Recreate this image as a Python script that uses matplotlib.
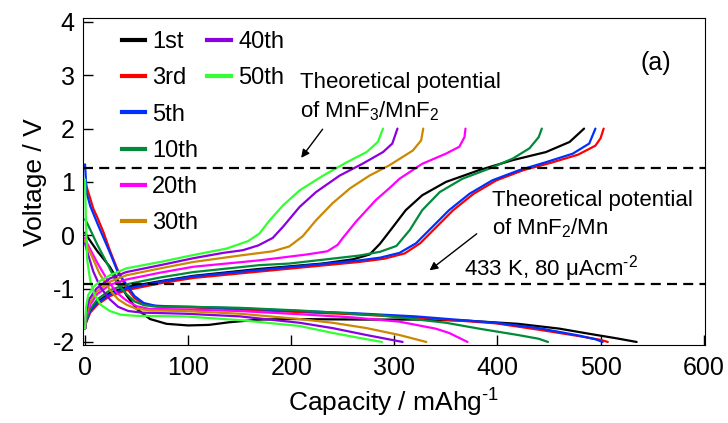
import matplotlib
matplotlib.use('Agg')
import matplotlib.pyplot as plt
from matplotlib.lines import Line2D

plt.rcParams['font.family'] = ['Liberation Sans', 'DejaVu Sans']
plt.rcParams['mathtext.fontset'] = 'custom'
plt.rcParams['mathtext.rm'] = 'Liberation Sans'
plt.rcParams['mathtext.default'] = 'regular'
plt.rcParams['axes.unicode_minus'] = False

# cycle labels and colours
cycles = ['1st', '3rd', '5th', '10th', '20th', '30th', '40th', '50th']
colors = ['#000000', '#ff0000', '#0030ff', '#008a3a', '#ff00ff', '#cc8800', '#8a00e0', '#33ff33']

# discharge curves (capacity mAh/g, voltage V)
d1_cap = [0, 2, 12, 24, 32, 40, 50, 63, 79, 100, 120, 140, 170, 200, 266, 320, 370, 420, 460, 490, 515, 535]
d1_v = [0.05, -0.02, -0.30, -0.59, -0.85, -1.12, -1.38, -1.57, -1.66, -1.69, -1.68, -1.63, -1.58, -1.57, -1.58, -1.58, -1.60, -1.66, -1.75, -1.85, -1.93, -2.0]
d3_cap = [0, 2, 8, 12, 18, 24, 31, 40, 48, 56, 65, 80, 100, 150, 208, 260, 320, 398, 440, 479, 500, 507]
d3_v = [1.02, 0.88, 0.50, 0.33, 0.05, -0.28, -0.62, -0.98, -1.18, -1.28, -1.32, -1.34, -1.35, -1.39, -1.44, -1.48, -1.54, -1.65, -1.77, -1.89, -1.96, -2.0]
d5_cap = [0, 1.5, 5, 12, 24, 32, 40, 48, 57, 68, 80, 100, 150, 208, 260, 320, 398, 440, 479, 495, 502]
d5_v = [1.33, 0.80, 0.55, 0.22, -0.32, -0.70, -0.92, -1.14, -1.27, -1.32, -1.33, -1.34, -1.37, -1.42, -1.46, -1.52, -1.64, -1.74, -1.88, -1.95, -2.0]
d10_cap = [0, 2, 12, 22, 31, 40, 48, 57, 70, 100, 150, 208, 286, 350, 382, 420, 440, 449]
d10_v = [0.30, 0.23, -0.18, -0.55, -0.90, -1.10, -1.24, -1.31, -1.34, -1.34, -1.36, -1.41, -1.50, -1.64, -1.75, -1.87, -1.94, -2.0]
d20_cap = [0, 2, 12, 22, 31, 40, 50, 62, 96, 150, 208, 260, 305, 340, 353, 371]
d20_v = [-0.05, -0.15, -0.52, -0.85, -1.08, -1.22, -1.33, -1.38, -1.39, -1.42, -1.48, -1.54, -1.62, -1.75, -1.83, -2.0]
d30_cap = [0, 2, 8, 14, 24, 32, 40, 50, 65, 96, 150, 208, 240, 273, 305, 331]
d30_v = [-0.10, -0.20, -0.45, -0.72, -1.02, -1.20, -1.30, -1.38, -1.41, -1.42, -1.47, -1.57, -1.64, -1.74, -1.87, -2.0]
d40_cap = [0, 2, 8, 15, 24, 32, 42, 55, 96, 150, 208, 240, 273, 308]
d40_v = [-0.15, -0.30, -0.68, -0.98, -1.20, -1.34, -1.42, -1.45, -1.47, -1.52, -1.64, -1.74, -1.87, -2.0]
d50_cap = [0, 0.8, 2, 5, 9, 15, 24, 35, 50, 96, 150, 208, 240, 265, 288]
d50_v = [1.05, 0.30, -0.45, -0.85, -1.10, -1.30, -1.42, -1.49, -1.51, -1.52, -1.59, -1.70, -1.83, -1.92, -2.0]

# charge curves
c1_cap = [0, 1, 5, 12, 24, 40, 73, 105, 169, 230, 260, 276, 286, 298, 311, 327, 350, 382, 415, 447, 470, 484]
c1_v = [-1.75, -1.60, -1.40, -1.25, -1.08, -0.97, -0.86, -0.76, -0.63, -0.53, -0.45, -0.36, -0.16, 0.14, 0.47, 0.75, 1.00, 1.22, 1.41, 1.56, 1.75, 2.0]
c3_cap = [0, 1, 5, 12, 24, 40, 73, 105, 169, 266, 290, 310, 325, 341, 357, 377, 399, 425, 452, 478, 495, 500, 503]
c3_v = [-1.75, -1.64, -1.45, -1.30, -1.14, -1.03, -0.90, -0.80, -0.68, -0.50, -0.44, -0.34, -0.15, 0.16, 0.47, 0.78, 1.03, 1.22, 1.36, 1.51, 1.68, 1.82, 2.0]
c5_cap = [0, 1, 5, 12, 24, 40, 73, 105, 169, 266, 286, 305, 321, 337, 353, 373, 395, 421, 447, 473, 489, 495]
c5_v = [-1.75, -1.62, -1.42, -1.27, -1.11, -1.00, -0.87, -0.77, -0.65, -0.47, -0.42, -0.33, -0.15, 0.16, 0.47, 0.78, 1.03, 1.22, 1.37, 1.53, 1.72, 2.0]
c10_cap = [0, 1, 5, 12, 24, 40, 73, 105, 169, 198, 266, 286, 302, 315, 327, 344, 366, 392, 415, 431, 440, 443]
c10_v = [-1.75, -1.60, -1.38, -1.20, -1.03, -0.92, -0.79, -0.69, -0.56, -0.53, -0.38, -0.31, -0.20, 0.10, 0.47, 0.81, 1.06, 1.25, 1.44, 1.63, 1.84, 2.0]
c20_cap = [0, 1, 5, 12, 24, 40, 73, 105, 169, 215, 235, 245, 250, 263, 282, 295, 305, 327, 350, 363, 368, 369]
c20_v = [-1.75, -1.55, -1.30, -1.10, -0.93, -0.83, -0.70, -0.59, -0.47, -0.36, -0.30, -0.18, -0.05, 0.26, 0.66, 0.88, 1.06, 1.34, 1.53, 1.66, 1.84, 2.0]
c30_cap = [0, 1, 4, 11, 24, 40, 73, 105, 150, 182, 198, 211, 224, 240, 257, 276, 295, 318, 326, 328]
c30_v = [-1.75, -1.50, -1.28, -1.06, -0.87, -0.75, -0.62, -0.50, -0.38, -0.30, -0.21, -0.02, 0.28, 0.60, 0.88, 1.12, 1.31, 1.59, 1.78, 2.0]
c40_cap = [0, 1, 4, 11, 24, 40, 73, 105, 134, 153, 168, 182, 192, 208, 224, 247, 269, 289, 298, 303]
c40_v = [-1.75, -1.45, -1.20, -1.00, -0.81, -0.69, -0.56, -0.43, -0.33, -0.28, -0.19, -0.05, 0.16, 0.53, 0.81, 1.12, 1.34, 1.56, 1.72, 2.0]
c50_cap = [0, 1, 3, 8, 15, 24, 40, 73, 105, 137, 158, 169, 179, 192, 208, 231, 253, 273, 284, 289]
c50_v = [-1.75, -1.35, -1.12, -0.97, -0.85, -0.75, -0.62, -0.50, -0.37, -0.25, -0.11, 0.03, 0.28, 0.56, 0.84, 1.12, 1.36, 1.56, 1.75, 2.0]

discharge = [(d1_cap, d1_v), (d3_cap, d3_v), (d5_cap, d5_v), (d10_cap, d10_v),
             (d20_cap, d20_v), (d30_cap, d30_v), (d40_cap, d40_v), (d50_cap, d50_v)]
charge = [(c1_cap, c1_v), (c3_cap, c3_v), (c5_cap, c5_v), (c10_cap, c10_v),
          (c20_cap, c20_v), (c30_cap, c30_v), (c40_cap, c40_v), (c50_cap, c50_v)]

# theoretical potentials
v_mnf3_mnf2 = 1.26
v_mnf2_mn = -0.92

fig = plt.figure(figsize=(7.28, 4.23), dpi=100)
ax = fig.add_axes([0.114, 0.184, 0.854, 0.773])

for i, label in enumerate(cycles):
    ax.plot(*discharge[i], color=colors[i], lw=1.6, solid_capstyle='round')
    ax.plot(*charge[i], color=colors[i], lw=1.6, solid_capstyle='round')

for v in [v_mnf3_mnf2, v_mnf2_mn]:
    ax.axhline(v, color='black', lw=1.6, dashes=(4.5, 2.8))

ax.set_xlim(-2, 601)
ax.set_ylim(-2.06, 4.07)
ax.set_xticks([0, 100, 200, 300, 400, 500, 600])
ax.set_yticks([-2, -1, 0, 1, 2, 3, 4])
ax.tick_params(direction='in', length=7, width=1, labelsize=18)
ax.tick_params(axis='x', pad=8)
ax.tick_params(axis='y', pad=6)
ax.set_xlabel(r'Capacity / mAhg$^{\text{-}1}$', fontsize=19, labelpad=5)
ax.set_ylabel('Voltage / V', fontsize=19, labelpad=4)

# two-column legend: six cycles on the left, two on the right
h1 = [Line2D([], [], color=colors[i], lw=3) for i in range(6)]
h2 = [Line2D([], [], color=colors[i], lw=3) for i in range(6, 8)]
leg_kw = dict(frameon=False, fontsize=17, handlelength=1.0, handletextpad=0.3,
              labelspacing=0.6, borderpad=0, borderaxespad=0, loc='upper left')
leg1 = ax.legend(h1, cycles[:6], bbox_to_anchor=(0.062, 0.96), **leg_kw)
ax.add_artist(leg1)
ax.legend(h2, cycles[6:], bbox_to_anchor=(0.2, 0.96), **leg_kw)

ax.text(0.921, 0.862, '(a)', transform=ax.transAxes, fontsize=18, ha='center', va='center')
ax.text(208, 2.59, 'Theoretical potential\nof MnF$_3$/MnF$_2$', fontsize=16,
        ha='left', va='center', linespacing=1.35)
ax.annotate('', xy=(208, 1.41), xytext=(232, 2.03),
            arrowprops=dict(arrowstyle='-|>', color='black', lw=1, mutation_scale=12))
ax.text(395, 0.38, 'Theoretical potential\nof MnF$_2$/Mn', fontsize=16,
        ha='left', va='center', linespacing=1.35)
ax.annotate('', xy=(332, -0.69), xytext=(382, 0.06),
            arrowprops=dict(arrowstyle='-|>', color='black', lw=1, mutation_scale=12))
ax.text(368, -0.62, r'433 K, 80 μAcm$^{\text{-}2}$', fontsize=16, ha='left', va='center')

fig.savefig('out.png', dpi=100)
